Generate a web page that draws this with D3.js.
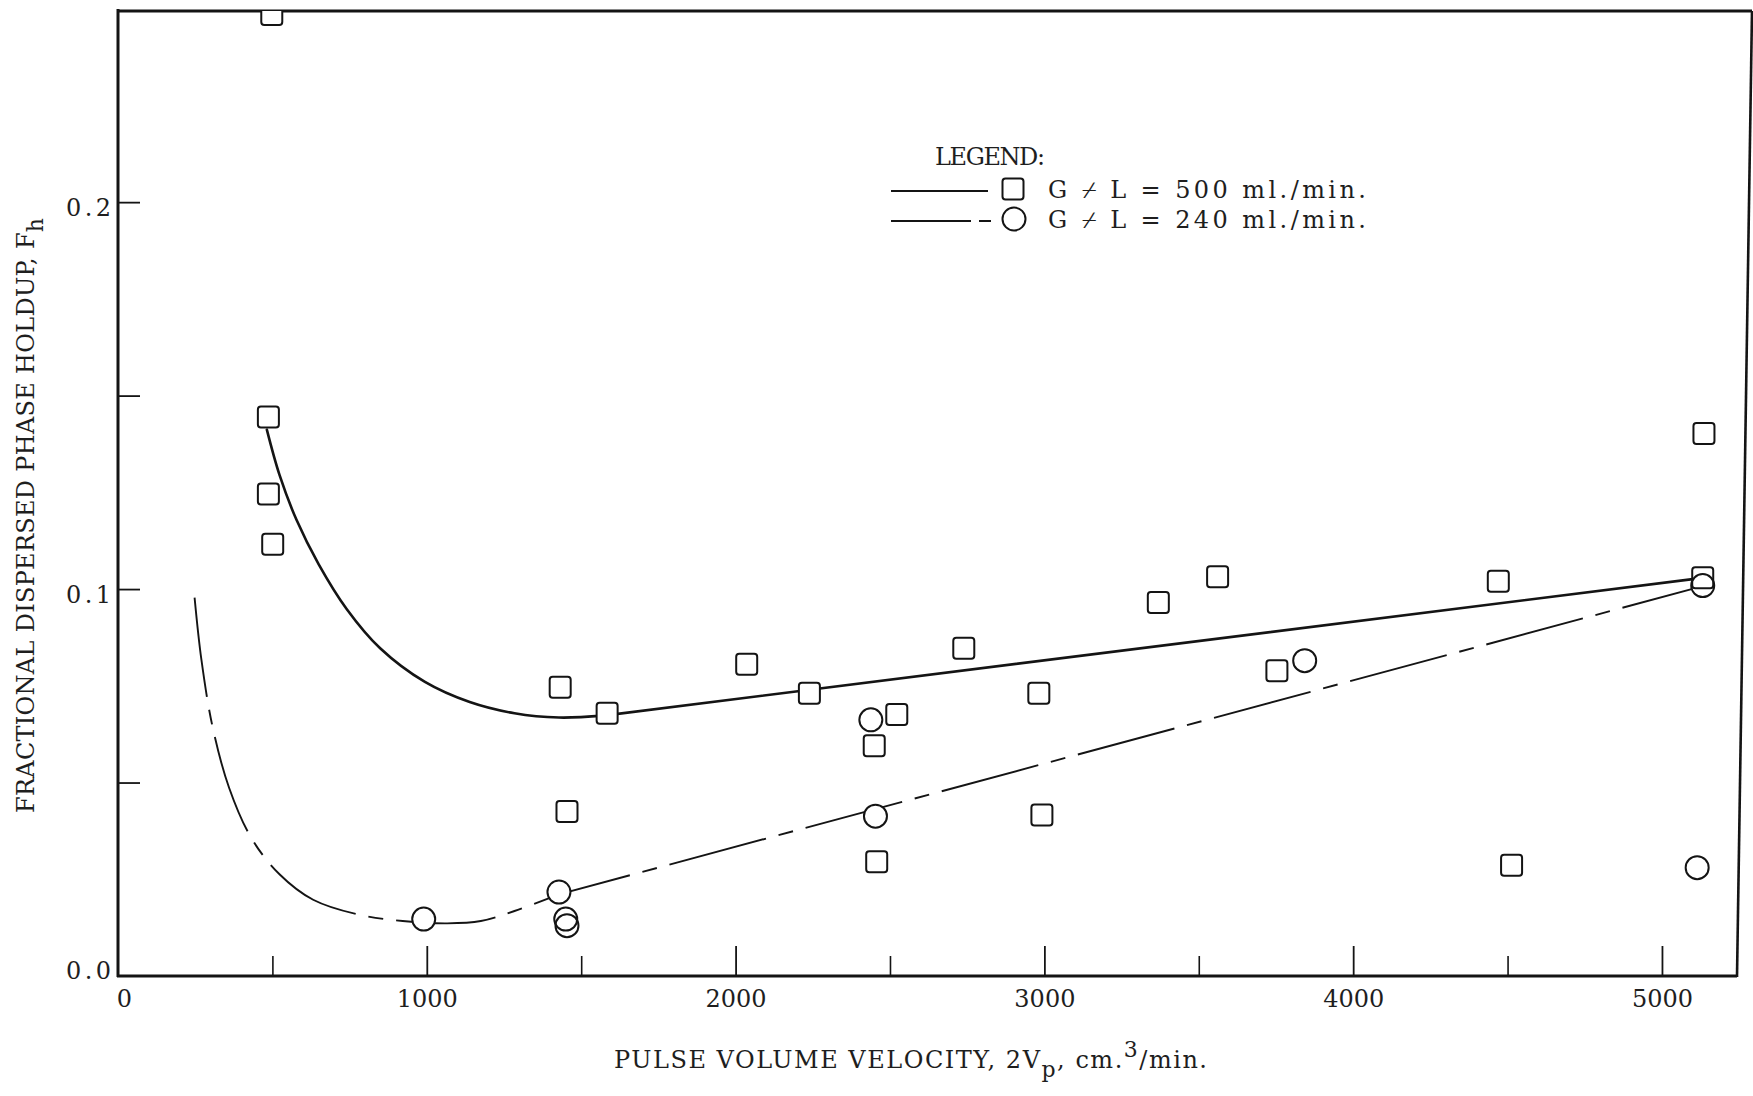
<!DOCTYPE html>
<html>
<head>
<meta charset="utf-8">
<script src="https://cdn.jsdelivr.net/npm/d3@7"></script>
<style>
  html, body { margin: 0; padding: 0; background: #fff; }
  svg { display: block; }
  text { font-family: "DejaVu Serif", "Liberation Serif", serif; fill: #1e1e1e; }
</style>
</head>
<body>
<svg id="chart" width="1753" height="1096"></svg>
<script>
// Measured holdup, G + L = 500 ml./min. (squares): [2Vp cm.3/min, Fh]
const holdup500 = [
  [498, 0.2485], [487, 0.1445], [487, 0.1246], [501, 0.1116],
  [1432, 0.0746], [1454, 0.0425], [1584, 0.0679], [2036, 0.0806],
  [2239, 0.0731], [2449, 0.0595], [2522, 0.0676], [2457, 0.0295],
  [2739, 0.0847], [2982, 0.0731], [2992, 0.0416], [3369, 0.0965],
  [3561, 0.1032], [3753, 0.0789], [4470, 0.1020], [4513, 0.0286],
  [5136, 0.1402], [5132, 0.1029]
];

// Measured holdup, G + L = 240 ml./min. (circles)
const holdup240 = [
  [990, 0.0147], [1428, 0.0217], [1450, 0.0147], [1454, 0.0130],
  [2438, 0.0662], [2453, 0.0413], [3843, 0.0815], [5132, 0.1009],
  [5114, 0.0280]
];

// Hand-fitted trend for 500 ml./min.: curved part, then a straight run
const fit500Curve = [
  [482, 0.1412], [523, 0.1295], [578, 0.1179], [650, 0.1064],
  [741, 0.0948], [849, 0.0847], [994, 0.0760], [1139, 0.0708],
  [1284, 0.0679], [1428, 0.0668], [1573, 0.0673]
];
const fit500Tail = [[1573, 0.0673], [5132, 0.1029]];

// Hand-fitted trend for 240 ml./min.
const fit240Curve = [
  [248, 0.0978], [270, 0.0818], [306, 0.0645], [360, 0.0486],
  [433, 0.0355], [523, 0.0263], [632, 0.0197], [777, 0.0159],
  [922, 0.0142], [1066, 0.0136], [1175, 0.0142], [1284, 0.0168],
  [1428, 0.0211]
];
const fit240Tail = [[1428, 0.0211], [5120, 0.1005]];

// Axis ticks
const xMajorTicks = [0, 1000, 2000, 3000, 4000, 5000];
const xMinorTicks = [500, 1500, 2500, 3500, 4500];
const yTicks = [0.05, 0.1, 0.15, 0.2];
const yLabelTicks = [0.0, 0.1, 0.2];

// Legend
const legendTitle = "LEGEND:";
const legendLabels = ["G \u233F L = 500 ml./min.", "G \u233F L = 240 ml./min."];

const svg = d3.select("#chart");
const plot = { left: 118, right: 1737, top: 11, bottom: 976 };

const x = d3.scaleLinear().domain([0, 5243]).range([plot.left, plot.right]);
const y = d3.scaleLinear().domain([0, 0.2494]).range([plot.bottom, plot.top]);

const ink = "#141414";
const FS = 24;

svg.append("defs").append("clipPath").attr("id", "plotClip")
  .append("rect")
  .attr("x", plot.left).attr("y", plot.top)
  .attr("width", plot.right - plot.left + 20)
  .attr("height", plot.bottom - plot.top);

// ---- axes ----
const fmt = d3.format(".1f");

const yAxis = svg.append("g")
  .attr("transform", `translate(${plot.left},0)`)
  .call(d3.axisLeft(y).tickValues(yTicks).tickSize(-22).tickFormat(""));
yAxis.select(".domain").remove();
yAxis.selectAll(".tick line").attr("stroke", ink).attr("stroke-width", 1.8);

const yLab = svg.append("g")
  .attr("transform", `translate(${plot.left},0)`)
  .call(d3.axisLeft(y).tickValues(yLabelTicks).tickSize(0).tickPadding(7).tickFormat(fmt));
yLab.select(".domain").remove();
yLab.selectAll(".tick text")
  .attr("font-size", FS).attr("dy", "0.55em")
  .attr("textLength", 45).attr("lengthAdjust", "spacing")
  .style("font-family", "\"DejaVu Serif\", serif").attr("fill", "#1e1e1e");
yLab.selectAll(".tick").filter(d => d === 0).select("text").attr("dy", "0.1em");

const xAxis = svg.append("g")
  .attr("transform", `translate(0,${plot.bottom})`)
  .call(d3.axisBottom(x).tickValues(xMajorTicks).tickSize(-30).tickPadding(14).tickFormat(d3.format("d")));
xAxis.select(".domain").remove();
xAxis.selectAll(".tick line").attr("stroke", ink).attr("stroke-width", 1.8);
xAxis.selectAll(".tick").filter(d => d === 0).select("line").remove();
xAxis.selectAll(".tick text")
  .attr("font-size", FS)
  .style("font-family", "\"DejaVu Serif\", serif").attr("fill", "#1e1e1e");
xAxis.selectAll(".tick").filter(d => d === 0).select("text").attr("dx", 6);

const xMinor = svg.append("g")
  .attr("transform", `translate(0,${plot.bottom})`)
  .call(d3.axisBottom(x).tickValues(xMinorTicks).tickSize(-20).tickFormat(""));
xMinor.select(".domain").remove();
xMinor.selectAll(".tick line").attr("stroke", ink).attr("stroke-width", 1.6);

// ---- frame ----
const frame = svg.append("g").attr("fill", "none").attr("stroke", ink);
frame.append("line")
  .attr("x1", plot.left).attr("x2", plot.left)
  .attr("y1", plot.top - 2).attr("y2", plot.bottom + 1)
  .attr("stroke-width", 3);
frame.append("line")
  .attr("x1", plot.left - 1).attr("x2", plot.right)
  .attr("y1", plot.bottom).attr("y2", plot.bottom)
  .attr("stroke-width", 3.2);
frame.append("line")
  .attr("x1", plot.left).attr("x2", plot.right + 15)
  .attr("y1", plot.top).attr("y2", plot.top)
  .attr("stroke-width", 3);
frame.append("line")
  .attr("x1", plot.right + 15).attr("x2", plot.right)
  .attr("y1", plot.top).attr("y2", plot.bottom + 1)
  .attr("stroke-width", 2.6);

// ---- fit lines ----
const curveGen = d3.line().x(d => x(d[0])).y(d => y(d[1])).curve(d3.curveCatmullRom.alpha(0.5));
const straightGen = d3.line().x(d => x(d[0])).y(d => y(d[1]));
const joined = (curvePts, tailPts) => curveGen(curvePts) + straightGen(tailPts).replace(/^M/, "L");

const lines = svg.append("g").attr("clip-path", "url(#plotClip)").attr("fill", "none").attr("stroke", ink);
lines.append("path")
  .attr("d", joined(fit500Curve, fit500Tail))
  .attr("stroke-width", 2.6).attr("stroke-linecap", "round");
lines.append("path")
  .attr("d", joined(fit240Curve, fit240Tail))
  .attr("stroke-width", 1.9)
  .attr("stroke-dasharray", "100,13,15,13");

// ---- markers ----
const SQ = 21, R = 11.5;
const marks = svg.append("g").attr("clip-path", "url(#plotClip)");

function drawSquares(g, data, fill) {
  g.selectAll(null).data(data).join("rect")
    .attr("x", d => x(d[0]) - SQ / 2).attr("y", d => y(d[1]) - SQ / 2)
    .attr("width", SQ).attr("height", SQ).attr("rx", 3)
    .attr("fill", fill).attr("stroke", fill === "none" ? ink : "none")
    .attr("stroke-width", 2);
}
function drawCircles(g, data, fill) {
  g.selectAll(null).data(data).join("circle")
    .attr("cx", d => x(d[0])).attr("cy", d => y(d[1])).attr("r", R)
    .attr("fill", fill).attr("stroke", fill === "none" ? ink : "none")
    .attr("stroke-width", 2);
}
// white knock-outs hide the fit lines inside the symbols, outlines on top
const knock = marks.append("g");
drawSquares(knock, holdup500, "#fff");
drawCircles(knock, holdup240, "#fff");
const outl = marks.append("g");
drawSquares(outl, holdup500, "none");
drawCircles(outl, holdup240, "none");

// ---- legend ----
const lg = svg.append("g");
lg.append("text").attr("x", 935).attr("y", 165).attr("font-size", FS)
  .attr("textLength", 110).attr("lengthAdjust", "spacing").text(legendTitle);

const rowY = [189, 219];
lg.append("line").attr("x1", 891).attr("x2", 988).attr("y1", rowY[0] + 2).attr("y2", rowY[0] + 2)
  .attr("stroke", ink).attr("stroke-width", 2.2);
lg.append("line").attr("x1", 891).attr("x2", 991).attr("y1", rowY[1] + 2).attr("y2", rowY[1] + 2)
  .attr("stroke", ink).attr("stroke-width", 1.9).attr("stroke-dasharray", "80,8,12,100");
lg.append("rect").attr("x", 1013 - SQ / 2).attr("y", rowY[0] - SQ / 2)
  .attr("width", SQ).attr("height", SQ).attr("rx", 3)
  .attr("fill", "#fff").attr("stroke", ink).attr("stroke-width", 2);
lg.append("circle").attr("cx", 1014).attr("cy", rowY[1]).attr("r", R)
  .attr("fill", "#fff").attr("stroke", ink).attr("stroke-width", 2);
lg.selectAll(null).data(legendLabels).join("text")
  .attr("x", 1048).attr("y", (d, i) => rowY[i] + 9)
  .attr("font-size", FS)
  .attr("textLength", 318).attr("lengthAdjust", "spacing")
  .text(d => d);

// ---- axis titles ----
const xt = svg.append("text")
  .attr("x", 614).attr("y", 1068).attr("font-size", FS)
  .attr("textLength", 593).attr("lengthAdjust", "spacing");
xt.append("tspan").text("PULSE VOLUME VELOCITY, 2V");
xt.append("tspan").attr("dy", 9).attr("font-size", 22).text("p");
xt.append("tspan").attr("dy", -9).text(", cm.");
xt.append("tspan").attr("dy", -11).attr("font-size", 22).text("3");
xt.append("tspan").attr("dy", 11).text("/min.");

const yt = svg.append("text")
  .attr("transform", "translate(34,813) rotate(-90)")
  .attr("font-size", FS)
  .attr("textLength", 595).attr("lengthAdjust", "spacing");
yt.append("tspan").text("FRACTIONAL DISPERSED PHASE HOLDUP, F");
yt.append("tspan").attr("dy", 9).attr("font-size", 22).text("h");
</script>
</body>
</html>
